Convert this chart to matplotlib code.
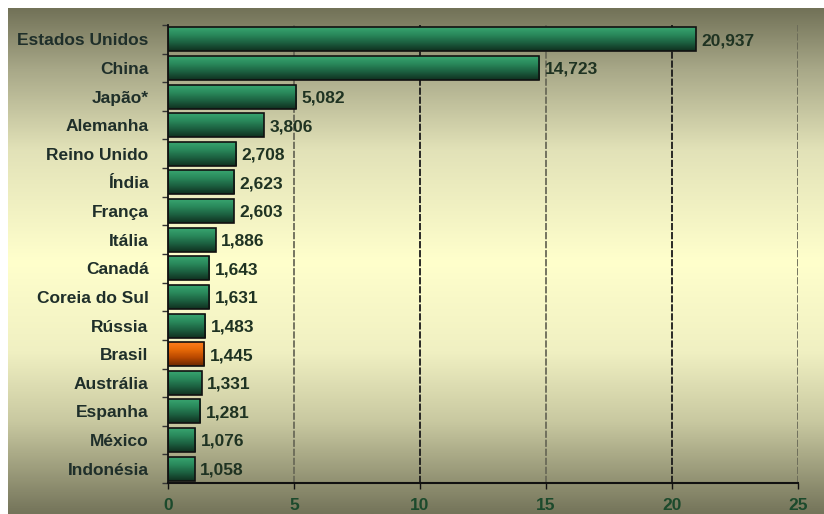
import numpy as np
import matplotlib
matplotlib.use("Agg")
import matplotlib.pyplot as plt
from matplotlib.colors import LinearSegmentedColormap

countries = ["Estados Unidos", "China", "Japão*", "Alemanha", "Reino Unido", "Índia",
             "França", "Itália", "Canadá", "Coreia do Sul", "Rússia", "Brasil",
             "Austrália", "Espanha", "México", "Indonésia"]
values = [20.937, 14.723, 5.082, 3.806, 2.708, 2.623, 2.603, 1.886, 1.643, 1.631,
          1.483, 1.445, 1.331, 1.281, 1.076, 1.058]
value_labels = ["20,937", "14,723", "5,082", "3,806", "2,708", "2,623", "2,603", "1,886",
                "1,643", "1,631", "1,483", "1,445", "1,331", "1,281", "1,076", "1,058"]
highlight = "Brasil"
xticks = [0, 5, 10, 15, 20, 25]

plt.rcParams['font.family'] = ['Liberation Sans', 'DejaVu Sans']

W, H = 824, 514
fig = plt.figure(figsize=(W / 100, H / 100), dpi=100, facecolor="white")

# background gradient
bg = fig.add_axes([8 / W, 0, 1 - 8 / W, 1 - 8 / H], zorder=0)
bg_cmap = LinearSegmentedColormap.from_list("bg", [
    (0.0, "#727258"), (0.12, "#a8a888"), (0.28, "#e2e2b8"), (0.5, "#ffffcc"),
    (0.68, "#f0f0c2"), (0.82, "#c8c8a0"), (1.0, "#74745a")])
grad = np.linspace(0, 1, 256).reshape(-1, 1)
bg.imshow(grad, aspect="auto", cmap=bg_cmap, extent=[0, 1, 0, 1], origin="upper")
bg.set_axis_off()

ax = fig.add_axes([168 / W, 1 - 483 / H, (798 - 168) / W, (483 - 25) / H], zorder=1)
ax.patch.set_alpha(0)

y = np.arange(len(countries))
bars = ax.barh(y, values, height=0.84, color="none", edgecolor="#111111", linewidth=1.2, zorder=3)

green_cmap = LinearSegmentedColormap.from_list("g", ["#3aa872", "#2a8a5c", "#1c6040", "#10301f"])
orange_cmap = LinearSegmentedColormap.from_list("o", ["#ff8020", "#e86a08", "#b84800", "#6a2800"])
vgrad = np.linspace(0, 1, 64).reshape(-1, 1)
for bar, name in zip(bars, countries):
    x0, y0 = bar.get_x(), bar.get_y()
    w, h = bar.get_width(), bar.get_height()
    cm = orange_cmap if name == highlight else green_cmap
    im = ax.imshow(vgrad, aspect="auto", cmap=cm, extent=[x0, x0 + w, y0 + h, y0],
                   origin="upper", zorder=2)
    im.set_clip_path(bar)

for v, lab, yi in zip(values, value_labels, y):
    ax.text(v + 0.22, yi + 0.05, lab, va="center", ha="left", fontsize=12.5,
            fontweight="bold", color="#1f3322", zorder=4)

ax.set_xlim(0, 25)
ax.set_ylim(len(countries) - 0.5, -0.5)

for i, xv in enumerate(xticks[1:]):
    col = "#1a1a1a" if xv % 10 == 0 else "#6a6a58"
    ax.axvline(xv, color=col, linestyle=(0, (4, 1)), linewidth=1.3, zorder=1)

ax.set_xticks(xticks)
ax.set_xticklabels([str(t) for t in xticks], fontsize=12.5, fontweight="bold", color="#1c4a2c")
ax.set_yticks(y)
ax.set_yticklabels(countries, fontsize=12.5, fontweight="bold", color="#1f2f2a")
ax.tick_params(axis="y", length=0, pad=14)
ax.tick_params(axis="x", length=4, width=1, color="#111111", pad=7)
ax.set_yticks(np.arange(-0.5, len(countries), 1), minor=True)
ax.tick_params(axis="y", which="minor", length=4, width=1, color="#333333")

for s in ["top", "right"]:
    ax.spines[s].set_visible(False)
ax.spines["left"].set_color("#111111")
ax.spines["left"].set_linewidth(1.3)
ax.spines["bottom"].set_color("#111111")
ax.spines["bottom"].set_linewidth(1.5)

fig.savefig("out.png", dpi=100, facecolor="white")
